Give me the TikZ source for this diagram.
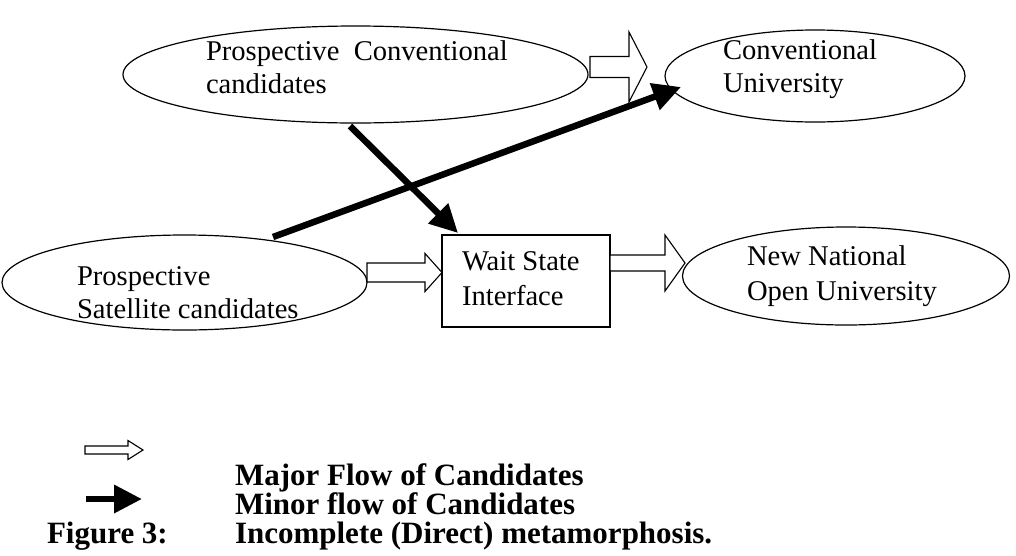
\documentclass[tikz,border=0pt]{standalone}
\usepackage{fontspec}
\setmainfont{Liberation Serif}
\usetikzlibrary{shapes.geometric,arrows.meta,calc}
\newcommand{\hblock}[5]{% start, tip, shaft half, head half, head length
  \draw[hollow] let \p1=(#1), \p2=(#2) in
   (\x1,\y2+#3pt) -- (\x2-#5pt,\y2+#3pt) -- (\x2-#5pt,\y2+#4pt) -- (\x2,\y2)
   -- (\x2-#5pt,\y2-#4pt) -- (\x2-#5pt,\y2-#3pt) -- (\x1,\y2-#3pt) -- cycle;}
\begin{document}
\begin{tikzpicture}[x=1pt,y=-1pt,
  every node/.style={inner sep=0pt, outer sep=0pt},
  oval/.style={ellipse, draw, line width=1.2pt},
  boxnode/.style={rectangle, draw, line width=1.2pt},
  lbl/.style={anchor=base west, font=\fontsize{28.6}{33}\selectfont},
  leg/.style={anchor=base west, font=\fontsize{31}{34}\selectfont\bfseries},
  hollow/.style={draw, fill=white, line width=1.1pt, line join=miter},
  minor/.style={line width=6.5pt, -{Triangle[length=28pt 0 0, width=27pt 0 0]}}]
\useasboundingbox (0,0) rectangle (1016,555);
% shapes
\node[oval, minimum width=465pt, minimum height=97pt] (E1) at (355.5,74.5) {};
\node[oval, minimum width=300pt, minimum height=92pt] (E2) at (815,76) {};
\node[oval, minimum width=365pt, minimum height=95pt] (E3) at (184.5,282.5) {};
\node[oval, minimum width=327pt, minimum height=98pt] (E4) at (846,276) {};
\node[boxnode, minimum width=168pt, minimum height=92pt] (W) at (526,281) {};
% texts
\node[lbl] (t1a) at (206,60) {Prospective\ \ Conventional};
\node[lbl] (t1b) at (206,93) {candidates};
\node[lbl] (t2a) at (723,59) {Conventional};
\node[lbl] (t2b) at (723,92) {University};
\node[lbl] (t3a) at (77,285) {Prospective};
\node[lbl] (t3b) at (77,318) {Satellite candidates};
\node[lbl] (t4a) at (462,270) {Wait State};
\node[lbl] (t4b) at (462,305) {Interface};
\node[lbl] (t5a) at (747,265) {New National};
\node[lbl] (t5b) at (747,300) {Open University};
% major flows (block arrows)
\coordinate (a1s) at ($(E1.east)+(2,0)$);
\coordinate (a1t) at (647,67);
\hblock{a1s}{a1t}{10.5}{35}{18}
\coordinate (a2t) at ($(W.west)+(0,-8.5)$);
\hblock{E3.east}{a2t}{9.5}{19}{17}
\coordinate (a3t) at (685,263);
\hblock{W.east}{a3t}{8}{28}{20}
% minor flows
\coordinate (m1s) at (350,126);
\coordinate (m1t) at ($(W.north west)+(16,-2)$);
\draw[minor] (m1s) -- (m1t);
\coordinate (m2s) at (273,237);
\coordinate (m2t) at (681,87);
\draw[minor] (m2s) -- (m2t);
% legend
\coordinate (lo1) at (85,450);
\coordinate (lo2) at (143,450);
\hblock{lo1}{lo2}{4}{9.5}{15}
\coordinate (lf1) at (86,499);
\coordinate (lf2) at (142,499);
\draw[minor] (lf1) -- (lf2);
\node[leg] (l1) at (235,485) {Major Flow of Candidates};
\node[leg] (l2) at (235,514) {Minor flow of Candidates};
\node[leg] (l3) at (47,543) {Figure 3:};
\node[leg] (l4) at (235,543) {Incomplete (Direct) metamorphosis.};
\end{tikzpicture}
\end{document}
